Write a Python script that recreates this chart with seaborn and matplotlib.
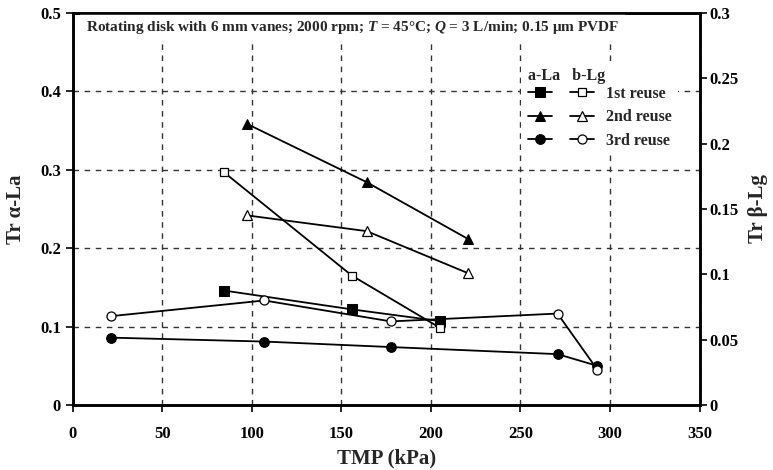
import matplotlib
matplotlib.use("Agg")
import matplotlib.pyplot as plt
import seaborn as sns

# TMP (kPa) for each reuse series
tmp_1st = [84.5, 155.9, 205.2]
tmp_2nd = [97.6, 164.2, 220.5]
tmp_3rd = [21.2, 107.0, 177.7, 270.7, 293.0]

# transmission of alpha-lactalbumin (left axis)
la_1st = [0.146, 0.122, 0.107]
la_2nd = [0.358, 0.284, 0.212]
la_3rd = [0.086, 0.081, 0.074, 0.065, 0.050]

# transmission of beta-lactoglobulin (right axis)
lg_1st = [0.178, 0.099, 0.059]
lg_2nd = [0.145, 0.133, 0.101]
lg_3rd = [0.068, 0.080, 0.064, 0.070, 0.027]

reuse_labels = ["1st reuse", "2nd reuse", "3rd reuse"]

sns.set_style("ticks")
plt.rcParams["font.family"] = ["Liberation Serif", "DejaVu Serif"]
plt.rcParams["font.weight"] = "bold"
plt.rcParams["axes.labelweight"] = "bold"
plt.rcParams["mathtext.fontset"] = "custom"
plt.rcParams["mathtext.rm"] = "Liberation Serif:bold"
plt.rcParams["mathtext.it"] = "Liberation Serif:italic:bold"

fig, ax = plt.subplots(figsize=(7.73, 4.70), dpi=100)
fig.subplots_adjust(left=0.094, right=0.905, bottom=0.138, top=0.973)
ax2 = ax.twinx()

line_kw = dict(color="black", linewidth=1.3, markeredgecolor="black")

sns.lineplot(x=tmp_1st, y=la_1st, marker="s", markersize=7, ax=ax, **line_kw)
sns.lineplot(x=tmp_2nd, y=la_2nd, marker="^", markersize=7, ax=ax, **line_kw)
sns.lineplot(x=tmp_3rd, y=la_3rd, marker="o", markersize=7, ax=ax, **line_kw)

open_kw = dict(line_kw, markerfacecolor="white", markeredgewidth=0.9)
sns.lineplot(x=tmp_1st, y=lg_1st, marker="s", markersize=6, ax=ax2, **open_kw)
sns.lineplot(x=tmp_2nd, y=lg_2nd, marker="^", markersize=6.5, ax=ax2, **open_kw)
sns.lineplot(x=tmp_3rd, y=lg_3rd, marker="o", markersize=6.5, ax=ax2, **open_kw)

ax.set_xlim(0, 350)
ax.set_ylim(0, 0.5)
ax2.set_ylim(0, 0.3)
ax.set_xticks(range(0, 351, 50))
ax.set_yticks([0, 0.1, 0.2, 0.3, 0.4, 0.5])
ax.set_yticklabels(["0", "0.1", "0.2", "0.3", "0.4", "0.5"])
ax2.set_yticks([0, 0.05, 0.1, 0.15, 0.2, 0.25, 0.3])
ax2.set_yticklabels(["0", "0.05", "0.1", "0.15", "0.2", "0.25", "0.3"])

ax.grid(True, linestyle=(0, (4, 4)), color="#333333", linewidth=1.0)
ax.set_axisbelow(True)

for a in (ax, ax2):
    for s in a.spines.values():
        s.set_linewidth(1.8)
        s.set_color("black")
    a.tick_params(labelsize=12, width=1.2, length=5, direction="out", colors="black")
ax.tick_params(axis="x", pad=10)
ax2.tick_params(axis="y", pad=2)

ax.set_xlabel("TMP (kPa)", fontsize=15, labelpad=5)
ax.set_ylabel("Tr α-La", fontsize=15, labelpad=10)
ax2.set_ylabel("Tr β-Lg", fontsize=15, labelpad=7)

ax.text(0.021, 0.963,
        "Rotating disk with 6 mm vanes; 2000 rpm; $T$ = 45°C; $Q$ = 3 L/min; 0.15 μm PVDF",
        transform=ax.transAxes, fontsize=11, fontweight="bold", va="center", ha="left",
        bbox=dict(facecolor="white", edgecolor="none", pad=4), zorder=5)

handles = ax.lines[:3] + ax2.lines[:3]
labels = ["", "", ""] + reuse_labels
leg = ax2.legend(handles, labels, ncol=2, loc="upper left", bbox_to_anchor=(0.703, 0.895),
                 title="a-La   b-Lg", alignment="left", fontsize=11.5, title_fontsize=11.5,
                 handlelength=1.5, handletextpad=0.75, columnspacing=0.4,
                 frameon=True, framealpha=1, facecolor="white", edgecolor="none",
                 borderpad=0.4, labelspacing=0.48)
leg.get_title().set_fontweight("bold")
# pull the header closer to the first row
leg._legend_box.sep = 1

fig.savefig("out.png", dpi=100)
